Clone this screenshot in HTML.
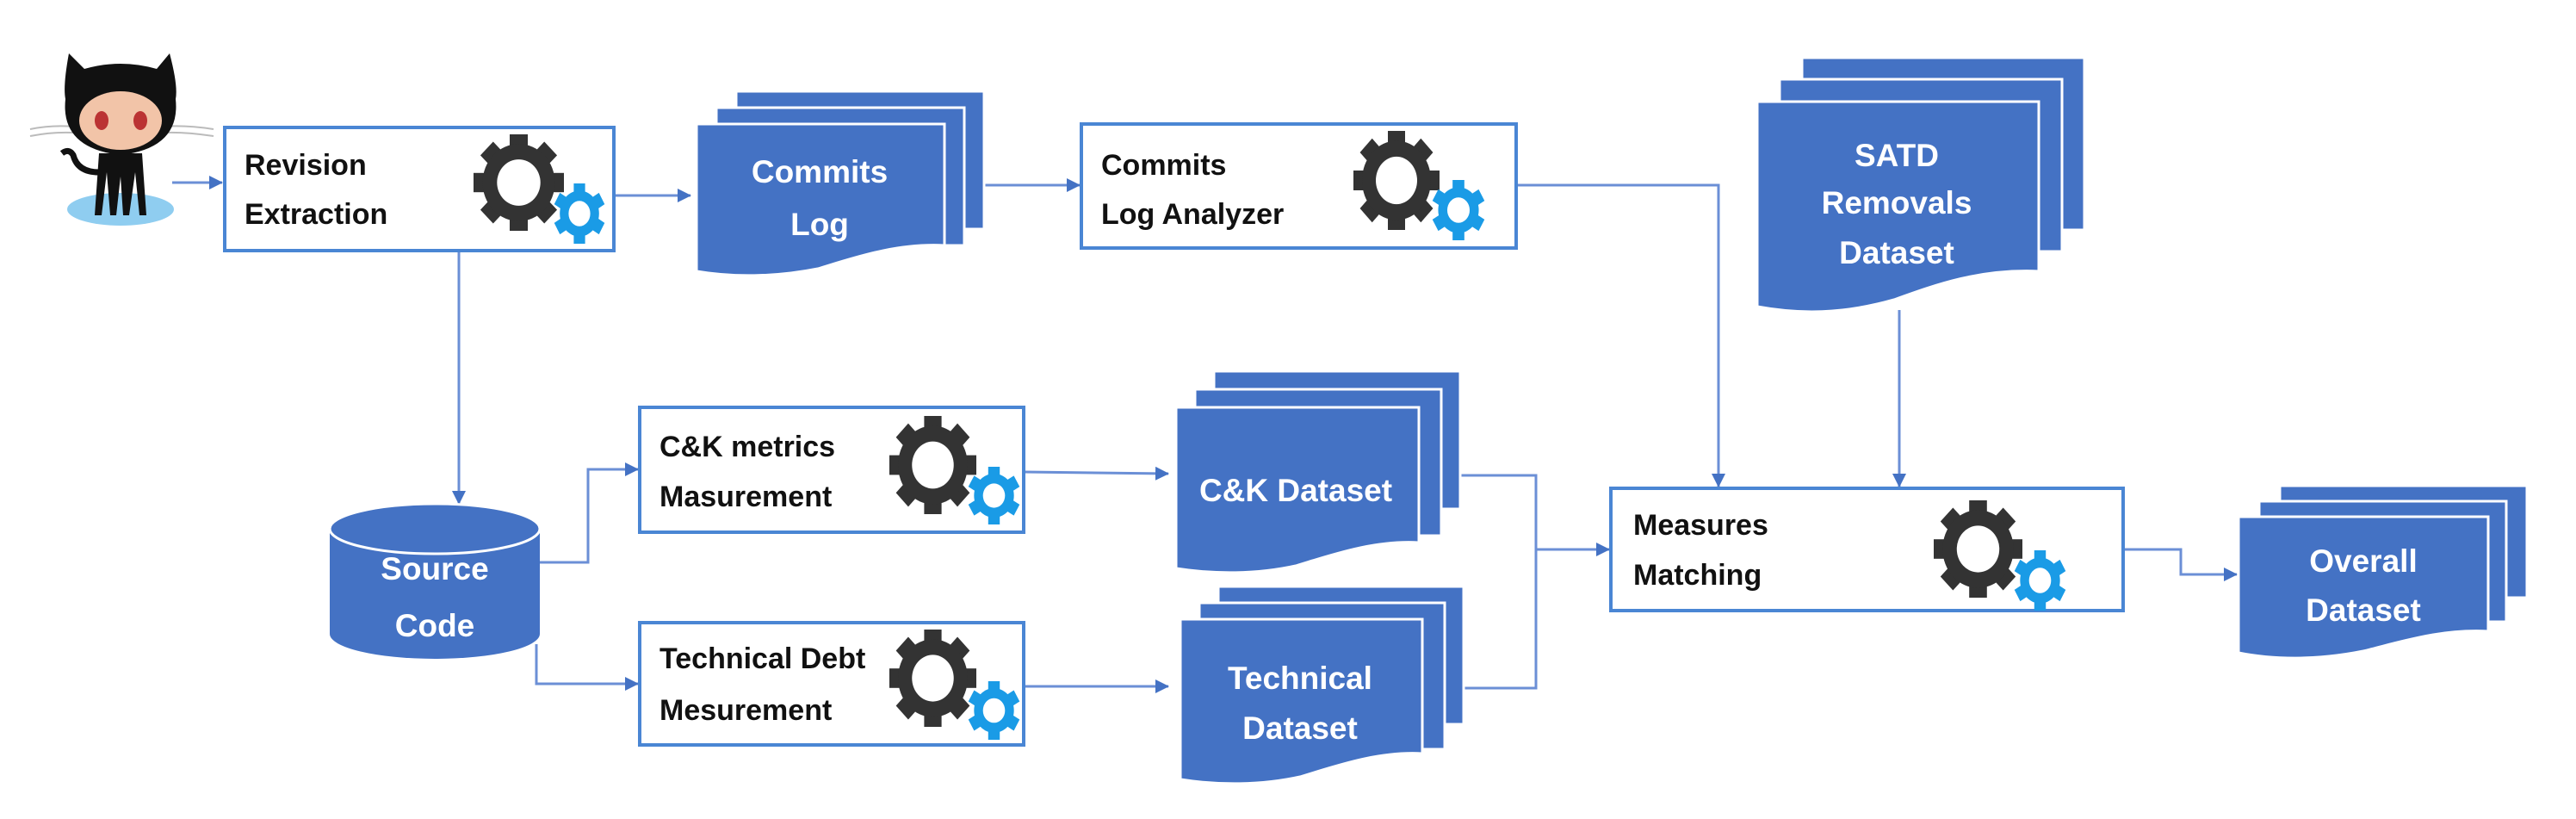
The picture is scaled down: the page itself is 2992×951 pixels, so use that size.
<!DOCTYPE html>
<html><head><meta charset="utf-8"><style>
html,body{margin:0;padding:0;background:#fff;}
svg{display:block;}
.t{font-family:"Liberation Sans",sans-serif;font-weight:bold;font-size:34px;fill:#111;}
.w{font-family:"Liberation Sans",sans-serif;font-weight:bold;font-size:37px;fill:#fff;text-anchor:middle;}
.box{fill:#fff;stroke:#4a86d4;stroke-width:4;}
.ln{stroke:#6b8fd6;stroke-width:3;fill:none;}
.doc{fill:#4472C4;stroke:#fff;stroke-width:3;}
</style></head><body>
<svg width="2992" height="951" viewBox="0 0 2992 951" xmlns="http://www.w3.org/2000/svg">
<defs>
<marker id="a" markerWidth="16" markerHeight="16" refX="15" refY="8" orient="auto" markerUnits="userSpaceOnUse" viewBox="0 0 16 16">
<path d="M0,0 L16,8 L0,16 Z" fill="#4472C4"/></marker>
<symbol id="g" viewBox="-50 -50 100 100" preserveAspectRatio="none">
<g fill="#333">
<rect x="-10" y="-50" width="20" height="100"/>
<rect x="-10" y="-50" width="20" height="100" transform="rotate(45)"/>
<rect x="-10" y="-50" width="20" height="100" transform="rotate(90)"/>
<rect x="-10" y="-50" width="20" height="100" transform="rotate(135)"/>
<circle r="40"/></g><circle r="24" fill="#fff"/>
</symbol>
<symbol id="b" viewBox="-50 -50 100 100" preserveAspectRatio="none">
<g fill="#1a9be6">
<rect x="-11" y="-50" width="22" height="100"/>
<rect x="-11" y="-50" width="22" height="100" transform="rotate(60)"/>
<rect x="-11" y="-50" width="22" height="100" transform="rotate(120)"/>
<circle r="38"/></g><circle r="21" fill="#fff"/>
</symbol>
</defs>

<!-- octocat -->
<ellipse cx="140" cy="243" rx="62" ry="19" fill="#8fcdf0"/>
<path d="M35,150 Q60,145 85,147 M35,158 Q60,153 85,154 M190,147 Q215,145 248,150 M190,154 Q215,153 248,158" stroke="#bbb" stroke-width="2" fill="none"/>
<path d="M80,62 L98,80 Q140,68 182,80 L197,62 Q207,100 204,115 Q210,172 140,180 Q70,172 76,115 Q73,100 80,62 Z" fill="#111"/>
<ellipse cx="140" cy="140" rx="48" ry="34" fill="#f2c4a8"/>
<ellipse cx="118" cy="140" rx="8" ry="11" fill="#b33"/><ellipse cx="163" cy="140" rx="8" ry="11" fill="#b33"/>
<path d="M115,178 L165,178 L170,250 L162,250 L157,200 L150,250 L143,250 L140,205 L135,250 L128,250 L124,200 L118,250 L110,250 Z" fill="#111"/>
<path d="M115,200 Q90,200 85,180 Q80,172 72,178" stroke="#111" stroke-width="7" fill="none"/>
<line x1="200" y1="212" x2="258" y2="212" class="ln" marker-end="url(#a)"/>

<!-- connectors -->
<line x1="713" y1="227" x2="802" y2="227" class="ln" marker-end="url(#a)"/>
<line x1="1143" y1="215" x2="1254" y2="215" class="ln" marker-end="url(#a)"/>
<line x1="533" y1="291" x2="533" y2="585" class="ln" marker-end="url(#a)"/>
<polyline points="627,653 683,653 683,545 741,545" class="ln" marker-end="url(#a)"/>
<polyline points="623,748 623,794 741,794" class="ln" marker-end="url(#a)"/>
<line x1="1189" y1="548" x2="1357" y2="550" class="ln" marker-end="url(#a)"/>
<line x1="1189" y1="797" x2="1357" y2="797" class="ln" marker-end="url(#a)"/>
<polyline points="1761,215 1996,215 1996,565" class="ln" marker-end="url(#a)"/>
<line x1="2206" y1="360" x2="2206" y2="565" class="ln" marker-end="url(#a)"/>
<polyline points="1696,552 1784,552 1784,799 1696,799" class="ln"/>
<line x1="1784" y1="638" x2="1869" y2="638" class="ln" marker-end="url(#a)"/>
<polyline points="2466,638 2533,638 2533,667 2598,667" class="ln" marker-end="url(#a)"/>

<!-- process boxes -->
<rect x="261" y="148" width="452" height="143" class="box"/>
<text class="t" x="284" y="203">Revision</text><text class="t" x="284" y="260">Extraction</text>
<use href="#g" x="550" y="156" width="105" height="112"/><use href="#b" x="643" y="213" width="60" height="70"/>

<rect x="1256" y="144" width="505" height="144" class="box"/>
<text class="t" x="1279" y="203">Commits</text><text class="t" x="1279" y="260">Log Analyzer</text>
<use href="#g" x="1572" y="152" width="100" height="115"/><use href="#b" x="1663" y="209" width="62" height="70"/>

<rect x="743" y="473" width="446" height="145" class="box"/>
<text class="t" x="766" y="530">C&amp;K metrics</text><text class="t" x="766" y="588">Masurement</text>
<use href="#g" x="1033" y="483" width="101" height="114"/><use href="#b" x="1124" y="542" width="61" height="67"/>

<rect x="743" y="723" width="446" height="142" class="box"/>
<text class="t" x="766" y="776">Technical Debt</text><text class="t" x="766" y="836">Mesurement</text>
<use href="#g" x="1033" y="731" width="101" height="113"/><use href="#b" x="1124" y="791" width="61" height="68"/>

<rect x="1871" y="567" width="595" height="142" class="box"/>
<text class="t" x="1897" y="621">Measures</text><text class="t" x="1897" y="679">Matching</text>
<use href="#g" x="2246" y="581" width="103" height="113"/><use href="#b" x="2339" y="639" width="61" height="70"/>

<!-- cylinder -->
<path d="M383,614 L383,736 A122,29 0 0 0 627,736 L627,614 Z" fill="#4472C4"/>
<ellipse cx="505" cy="614" rx="122" ry="29" fill="#4472C4" stroke="#fff" stroke-width="3"/>
<text class="w" x="505" y="673">Source</text><text class="w" x="505" y="739">Code</text>

<!-- document stacks -->
<rect x="855" y="106" width="288" height="160" class="doc"/>
<rect x="832" y="125" width="288" height="160" class="doc"/>
<path d="M809,144 H1097 V285 C1040,282 990,300 950,312 C900,322 850,322 809,315 Z" class="doc"/>
<text class="w" x="952" y="212">Commits</text><text class="w" x="952" y="273">Log</text>

<rect x="1410" y="431" width="286" height="160" class="doc"/>
<rect x="1388" y="452" width="286" height="170" class="doc"/>
<path d="M1366,473 H1648 V630 C1595,627 1545,645 1505,657 C1460,667 1410,667 1366,660 Z" class="doc"/>
<text class="w" x="1505" y="582">C&amp;K Dataset</text>

<rect x="1415" y="681" width="285" height="160" class="doc"/>
<rect x="1393" y="700" width="285" height="170" class="doc"/>
<path d="M1371,719 H1652 V875 C1600,872 1550,890 1510,902 C1465,912 1415,912 1371,905 Z" class="doc"/>
<text class="w" x="1510" y="800">Technical</text><text class="w" x="1510" y="858">Dataset</text>

<rect x="2093" y="67" width="328" height="200" class="doc"/>
<rect x="2067" y="92" width="328" height="200" class="doc"/>
<path d="M2041,118 H2368 V315 C2300,312 2250,330 2200,348 C2140,365 2090,365 2041,356 Z" class="doc"/>
<text class="w" x="2203" y="193">SATD</text><text class="w" x="2203" y="248">Removals</text><text class="w" x="2203" y="306">Dataset</text>

<rect x="2648" y="564" width="287" height="130" class="doc"/>
<rect x="2624" y="582" width="287" height="140" class="doc"/>
<path d="M2600,600 H2890 V733 C2835,730 2790,745 2745,756 C2690,767 2640,766 2600,758 Z" class="doc"/>
<text class="w" x="2745" y="664">Overall</text><text class="w" x="2745" y="721">Dataset</text>
</svg>
</body></html>
